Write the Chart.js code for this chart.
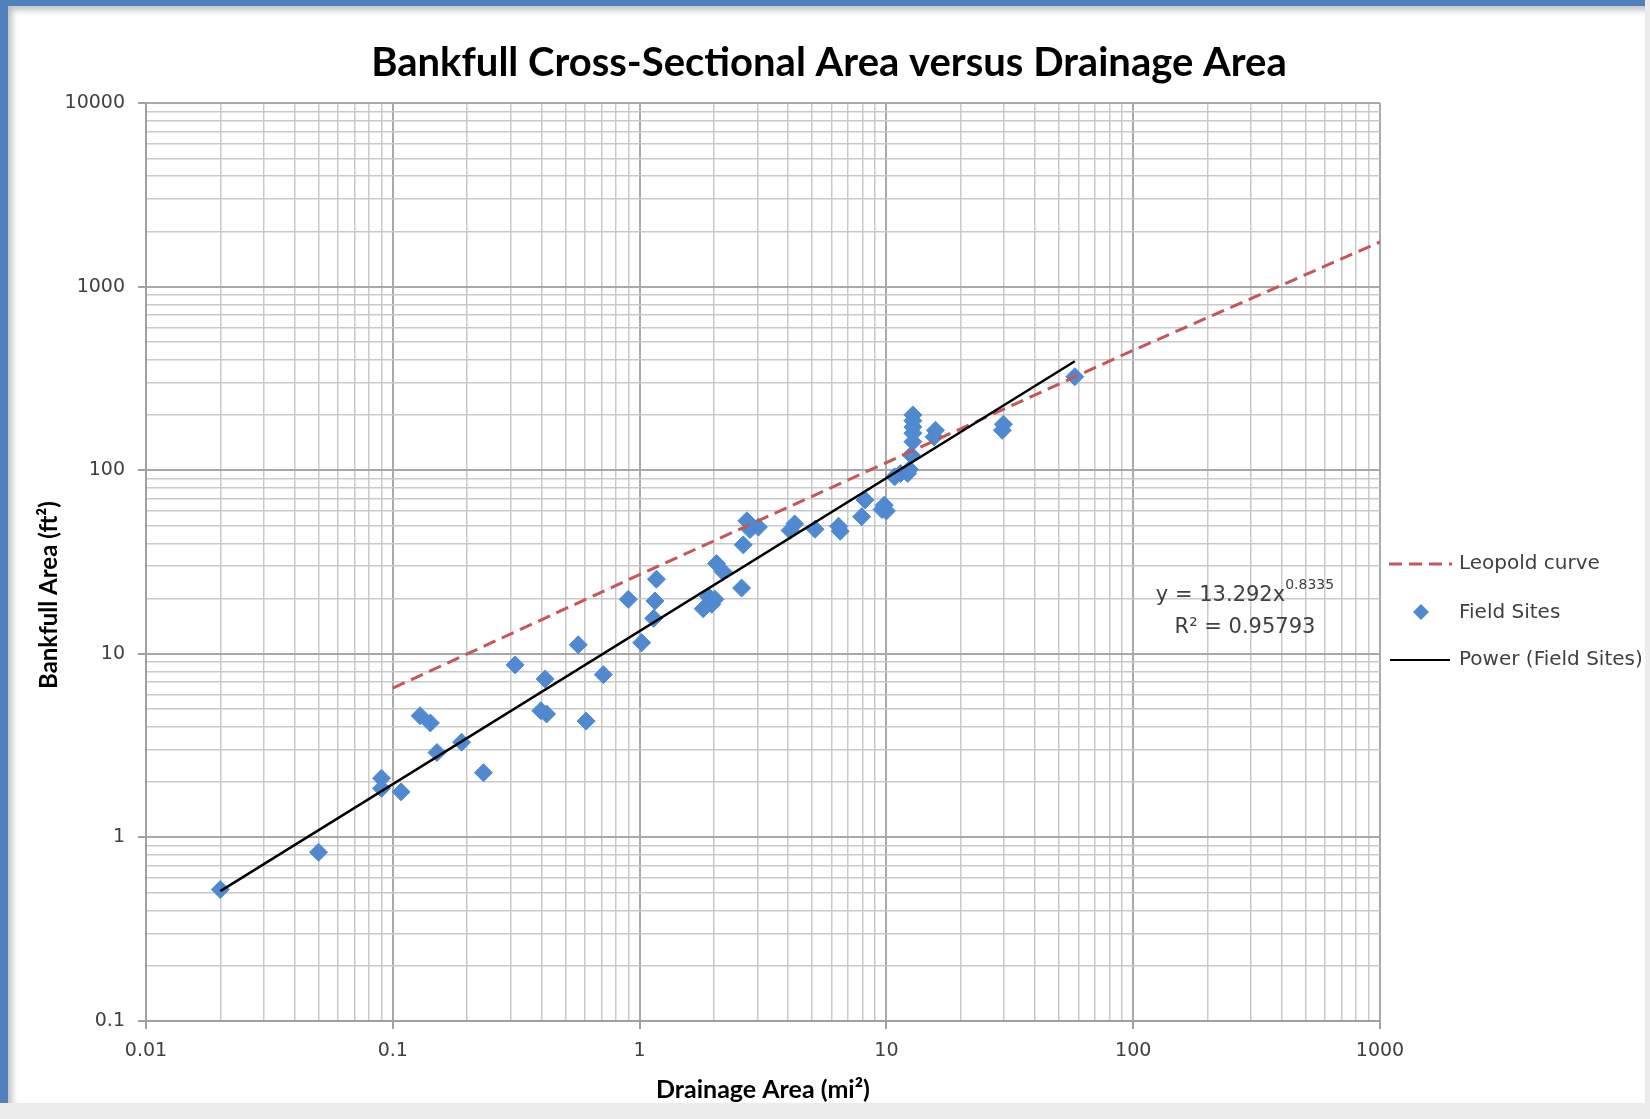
<!DOCTYPE html>
<html>
<head>
<meta charset="utf-8">
<title>Bankfull Cross-Sectional Area versus Drainage Area</title>
<script src="https://cdn.jsdelivr.net/npm/chart.js@4.4.1/dist/chart.umd.min.js"></script>
<style>
  html, body { margin: 0; padding: 0; background: #ececec; }
  #frame {
    position: absolute; left: 0; top: 0; width: 1637px; height: 1097px; background: #fff;
    border-left: 8px solid #4f81bd; border-top: 6px solid #4f81bd;
    box-shadow: inset 4px 4px 6px rgba(0, 0, 0, 0.25);
  }
  #wrap { position: absolute; left: 0; top: 0; width: 1650px; height: 1119px; }
</style>
</head>
<body>
<div id="frame"></div>
<div id="wrap"><canvas id="myChart" width="1650" height="1119"></canvas></div>
<script>
const chartTitle = "Bankfull Cross-Sectional Area versus Drainage Area";
const xTickLabels = ["0.01", "0.1", "1", "10", "100", "1000"];
const yTickLabels = ["0.1", "1", "10", "100", "1000", "10000"];

// field sites
const siteDrainage = [
  0.02, 0.05, 0.09, 0.09, 0.108, 0.129, 0.142, 0.151, 0.19, 0.233,
  0.313, 0.398, 0.42, 0.414, 0.564, 0.607, 0.713, 0.9, 1.02, 1.14,
  1.154, 1.17, 1.81, 1.9, 1.96, 2.02, 2.05, 2.18, 2.59, 2.63,
  2.72, 2.8, 3.03, 4.07, 4.25, 5.14, 6.4, 6.5, 7.94, 8.19,
  9.6, 9.8, 10, 10.8, 11.4, 12.2, 12.4, 12.6, 12.8, 12.8,
  12.8, 12.8, 12.8, 15.6, 15.8, 29.5, 29.8, 58
];
const siteBankfull = [
  0.52, 0.83, 2.1, 1.85, 1.77, 4.6, 4.2, 2.9, 3.3, 2.25,
  8.7, 4.9, 4.7, 7.3, 11.2, 4.3, 7.7, 19.8, 11.5, 15.6,
  19.4, 25.5, 17.6, 20.5, 18.6, 19.8, 31, 28, 22.8, 39.2,
  53, 47.5, 49, 47, 51, 47.7, 49.5, 46.5, 55.8, 68.9,
  61, 64.5, 60, 92, 96, 96, 101, 121, 143, 159,
  172, 186, 200, 152, 165, 165, 178, 323
];

const leopoldDrainage = [0.1, 1, 10, 100, 1000];
const leopoldBankfull = [6.5, 27, 110, 450, 1750];

// trendline end points
const powerDrainage = [0.02, 58];
const powerBankfull = [0.51, 392];

const trendEquation = "y = 13.292x";
const trendExponent = "0.8335";
const trendR2 = "R\u00b2 = 0.95793";

function toPoints(xs, ys) {
  return xs.map((x, i) => ({ x: x, y: ys[i] }));
}

function logTicks(labels) {
  const vals = labels.map(Number);
  const ticks = [];
  for (let i = 0; i < vals.length - 1; i++) {
    for (let m = 1; m < 10; m++) ticks.push({ value: vals[i] * m });
  }
  ticks.push({ value: vals[vals.length - 1] });
  return ticks;
}

function labelFor(v, labels) {
  const hit = labels.find(l => Math.abs(Number(l) - v) < Number(l) * 1e-6);
  return hit === undefined ? "" : hit;
}

function gridStyle(labels) {
  const major = ctx => ctx.tick && labelFor(ctx.tick.value, labels) !== "";
  return {
    color: ctx => (major(ctx) ? "#a9a9a9" : "#c9c9c9"),
    lineWidth: ctx => (major(ctx) ? 2 : 1.5),
    tickLength: 8,
    tickColor: ctx => (major(ctx) ? "#a0a0a0" : "rgba(0,0,0,0)"),
    tickWidth: 2,
  };
}

const labelFont = { family: "DejaVu Sans", size: 19 };

const annotations = {
  id: "annotations",
  afterDraw(chart) {
    const ctx = chart.ctx;
    const area = chart.chartArea;
    const ds = chart.data.datasets;

    // title
    ctx.save();
    ctx.font = "bold 40px Lato";
    ctx.fillStyle = "#000";
    ctx.textAlign = "center";
    ctx.textBaseline = "middle";
    ctx.fillText(chartTitle, 829, 63);

    // y axis title
    ctx.translate(area.left - 97, 595);
    ctx.rotate(-Math.PI / 2);
    ctx.font = "bold 24px Lato";
    ctx.fillText("Bankfull Area (ft\u00b2)", 0, 0);
    ctx.restore();

    // legend
    const lx = area.right + 9;
    const tx = area.right + 79;
    ctx.save();
    ctx.font = "20px 'DejaVu Sans'";
    ctx.fillStyle = "#404040";
    ctx.textBaseline = "middle";
    ctx.textAlign = "left";

    ctx.strokeStyle = ds[0].borderColor;
    ctx.lineWidth = ds[0].borderWidth;
    ctx.setLineDash(ds[0].borderDash);
    ctx.beginPath(); ctx.moveTo(lx, 564); ctx.lineTo(lx + 63, 564); ctx.stroke();
    ctx.fillText(ds[0].label, tx, 564);

    ctx.setLineDash([]);
    ctx.fillStyle = ds[1].backgroundColor;
    ctx.beginPath();
    ctx.moveTo(lx + 32, 604); ctx.lineTo(lx + 40, 612); ctx.lineTo(lx + 32, 620); ctx.lineTo(lx + 24, 612);
    ctx.closePath(); ctx.fill();
    ctx.fillStyle = "#404040";
    ctx.fillText(ds[1].label, tx, 613);

    ctx.strokeStyle = ds[2].borderColor;
    ctx.lineWidth = 2;
    ctx.beginPath(); ctx.moveTo(lx + 1, 660); ctx.lineTo(lx + 61, 660); ctx.stroke();
    ctx.fillText(ds[2].label, tx, 660);

    // trendline equation
    const cx = 1245;
    ctx.font = "21px 'DejaVu Sans'";
    const w1 = ctx.measureText(trendEquation).width;
    ctx.font = "14px 'DejaVu Sans'";
    const w2 = ctx.measureText(trendExponent).width;
    const sx = cx - (w1 + w2) / 2;
    ctx.font = "21px 'DejaVu Sans'";
    ctx.fillText(trendEquation, sx, 596);
    ctx.font = "14px 'DejaVu Sans'";
    ctx.fillText(trendExponent, sx + w1, 585);
    ctx.font = "21px 'DejaVu Sans'";
    ctx.textAlign = "center";
    ctx.fillText(trendR2, cx, 628);
    ctx.restore();
  },
};

const data = {
  datasets: [
    {
      label: "Leopold curve",
      type: "line",
      data: toPoints(leopoldDrainage, leopoldBankfull),
      borderColor: "#c4575a",
      borderWidth: 3,
      borderDash: [13, 7],
      pointRadius: 0,
      order: 1,
    },
    {
      label: "Field Sites",
      type: "scatter",
      data: toPoints(siteDrainage, siteBankfull),
      pointStyle: "rectRot",
      pointRadius: 9,
      backgroundColor: "#4f8ad0",
      borderColor: "#4f8ad0",
      borderWidth: 1,
      order: 2,
    },
    {
      label: "Power (Field Sites)",
      type: "line",
      data: toPoints(powerDrainage, powerBankfull),
      borderColor: "#000000",
      borderWidth: 2.5,
      pointRadius: 0,
      order: 0,
    },
  ],
};

const config = {
  type: "scatter",
  data: data,
  options: {
    responsive: false,
    animation: false,
    layout: {
      padding: { left: 30, right: 270, top: 103, bottom: 10 },
    },
    plugins: {
      legend: { display: false },
      tooltip: { enabled: false },
      title: { display: false },
    },
    scales: {
      x: {
        type: "logarithmic",
        min: 0.01,
        max: 1000,
        afterBuildTicks: s => { s.ticks = logTicks(xTickLabels); },
        afterFit: s => { s.height = 88; },
        ticks: {
          autoSkip: false,
          maxRotation: 0,
          padding: 11,
          color: "#404040",
          font: labelFont,
          callback: v => labelFor(v, xTickLabels),
        },
        grid: gridStyle(xTickLabels),
        border: { color: "#a0a0a0", width: 2 },
        title: {
          display: true,
          text: "Drainage Area (mi\u00b2)",
          color: "#000",
          font: { family: "Lato", weight: "bold", size: 25 },
          padding: { top: 0, bottom: 4 },
        },
      },
      y: {
        type: "logarithmic",
        min: 0.1,
        max: 10000,
        afterBuildTicks: s => { s.ticks = logTicks(yTickLabels); },
        afterFit: s => { s.width = 116; },
        ticks: {
          autoSkip: false,
          padding: 13,
          color: "#404040",
          font: labelFont,
          callback: v => labelFor(v, yTickLabels),
        },
        grid: gridStyle(yTickLabels),
        border: { color: "#a0a0a0", width: 2 },
      },
    },
  },
  plugins: [annotations],
};

const newChart = new Chart("myChart", config);
</script>
</body>
</html>
